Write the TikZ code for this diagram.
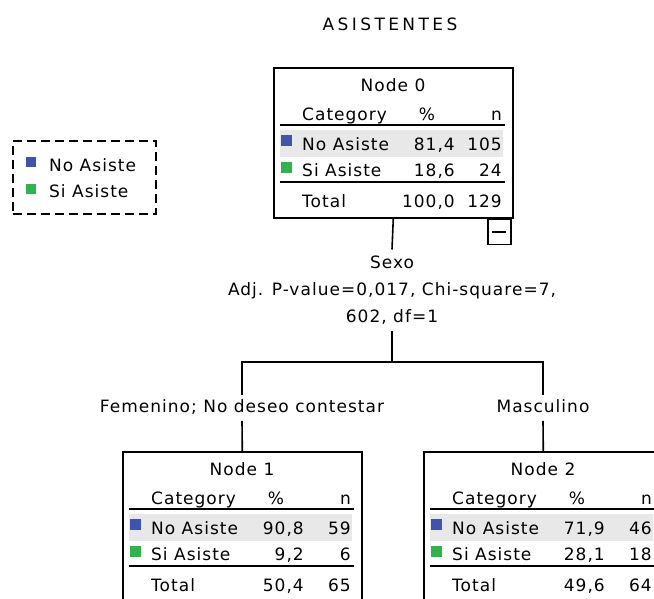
\documentclass[tikz,border=0pt]{standalone}
\usepackage{fontspec}
\setmainfont[LetterSpace=6]{DejaVu Sans}
\newfontfamily\titlefont[LetterSpace=20]{DejaVu Sans}
\definecolor{noasiste}{RGB}{63,84,175}
\definecolor{siasiste}{RGB}{44,182,74}
\definecolor{rowgray}{RGB}{232,232,232}
\tikzset{
  treebox/.style={draw, line width=1.6pt, minimum width=239pt, minimum height=150pt, inner sep=0pt},
  txt/.style={inner sep=0pt, font=\fontsize{17}{27}\selectfont},
  rule/.style={line width=1.6pt},
  link/.style={line width=1.6pt},
  catlabel/.style={txt, inner ysep=5pt, text height=12pt, text depth=3.5pt},
}
% one table node of the tree: x, y, number, then % and n of both rows and total
\newcommand{\treenode}[9]{%
  \begin{scope}[shift={(#1,#2)}]
    \node[treebox, anchor=north west] (n#3) at (0,0) {};
    \fill[rowgray] (7,63) rectangle (230,90);
    \node[txt, anchor=base] (n#3title) at (120,24) {Node #3};
    \node[txt, anchor=base west] (n#3cat) at (29,53) {Category};
    \node[txt, anchor=base] (n#3pct) at (154,53) {\%};
    \node[txt, anchor=base east] (n#3n) at (229,53) {n};
    \draw[rule] (7,58) -- (232,58);
    \fill[noasiste] (8,68) rectangle (19,79);
    \node[txt, anchor=base west] (n#3no) at (29,83) {No Asiste};
    \node[txt, anchor=base east] (n#3nop) at (182,83) {#4};
    \node[txt, anchor=base east] (n#3non) at (229,83) {#5};
    \fill[siasiste] (8,95) rectangle (19,106);
    \node[txt, anchor=base west] (n#3si) at (29,109) {Si Asiste};
    \node[txt, anchor=base east] (n#3sip) at (182,109) {#6};
    \node[txt, anchor=base east] (n#3sin) at (229,109) {#7};
    \draw[rule] (7,115) -- (232,115);
    \node[txt, anchor=base west] (n#3tot) at (29,140) {Total};
    \node[txt, anchor=base east] (n#3totp) at (182,140) {#8};
    \node[txt, anchor=base east] (n#3totn) at (229,140) {#9};
  \end{scope}}

\begin{document}
\begin{tikzpicture}[x=1pt,y=-1pt]
  \useasboundingbox (0,0) rectangle (654,598);
  \clip (0,0) rectangle (654,598);

  \node[txt, anchor=base, font=\titlefont\fontsize{17}{27}\selectfont] (title) at (390,30) {ASISTENTES};

  % legend
  \node[draw, line width=1.5pt, dash pattern=on 9pt off 5pt, minimum width=143pt,
        minimum height=73pt, anchor=north west] (legend) at (12,140) {};
  \fill[noasiste] (26,157) rectangle (36,167);
  \node[txt, anchor=base west] (legno) at (49,171) {No Asiste};
  \fill[siasiste] (26,184) rectangle (36,194);
  \node[txt, anchor=base west] (legsi) at (49,197) {Si Asiste};

  \treenode{273}{67}{0}{81,4}{105}{18,6}{24}{100,0}{129}
  \treenode{122}{451}{1}{90,8}{59}{9,2}{6}{50,4}{65}
  \treenode{423}{451}{2}{71,9}{46}{28,1}{18}{49,6}{64}

  \node[draw, line width=1.5pt, minimum width=23pt, minimum height=25pt, inner sep=0pt,
        anchor=north east] (collapse) at ([xshift=-2pt]n0.south east) {};
  \draw[line width=1.4pt] ([xshift=-7pt]collapse.center) -- ([xshift=7pt]collapse.center);

  \node[txt, align=center, inner ysep=6pt] (stat) at (392,290)
    {Sexo\\Adj. P-value=0,017, Chi-square=7,\\602, df=1};
  \node[catlabel] (lab1) at (242,408) {Femenino; No deseo contestar};
  \node[catlabel] (lab2) at (543,408) {Masculino};
  \coordinate (fork) at (392,362);

  \draw[link] (n0.south) -- (stat.north);
  \draw[link] (stat.south) -- (fork);
  \draw[link] (lab1.north) |- (fork) -| (lab2.north);
  \draw[link] (lab1.south) -- (n1.north);
  \draw[link] (lab2.south) -- (n2.north);
\end{tikzpicture}
\end{document}
